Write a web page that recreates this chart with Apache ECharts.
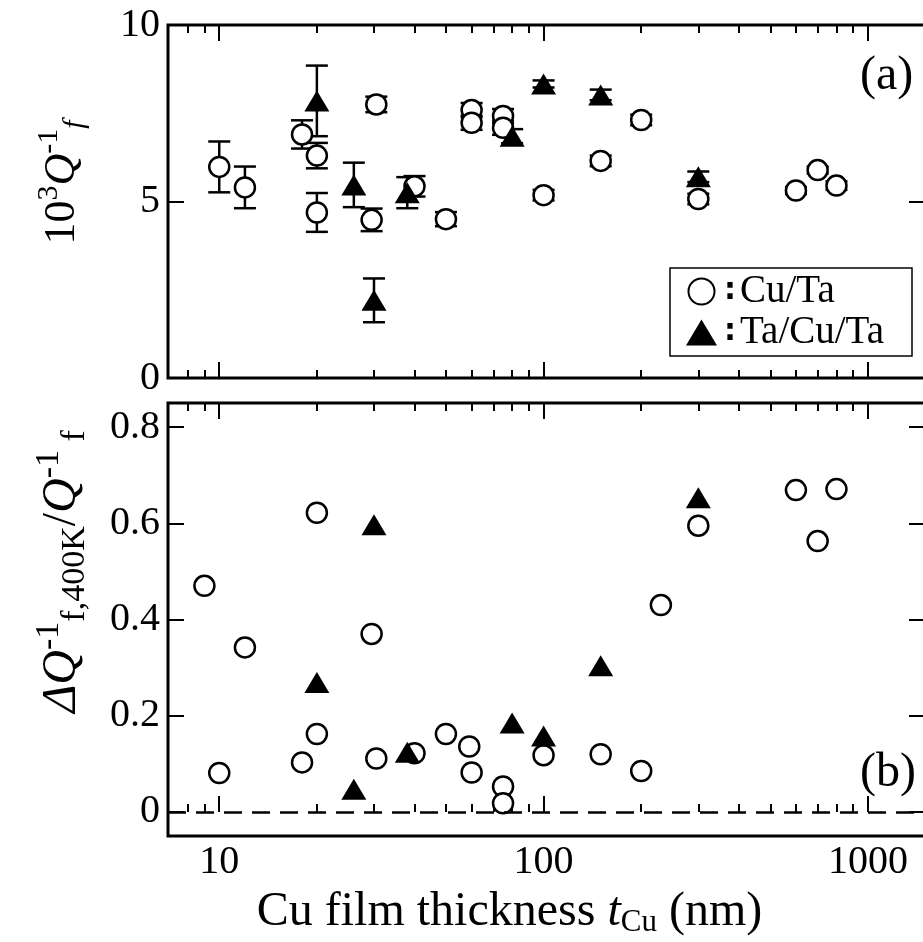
<!DOCTYPE html>
<html>
<head>
<meta charset="utf-8">
<script src="https://cdn.jsdelivr.net/npm/echarts@6/dist/echarts.min.js"></script>
<style>
  html, body { margin: 0; padding: 0; background: #fff; overflow: hidden; }
  #chart { width: 923px; height: 942px; }
</style>
</head>
<body>
<div id="chart"></div>
<script>
// x axis: Cu film thickness (nm), log scale
const xMajor = [10, 100, 1000];
const xMinor = [8, 9, 20, 30, 40, 50, 60, 70, 80, 90, 200, 300, 400, 500, 600, 700, 800, 900];
const yTicksA = [0, 5, 10];
const yTicksB = [0, 0.2, 0.4, 0.6, 0.8];

// (a) 10^3 Q^-1_f with error bars
const cuX_a = [10, 12, 18, 20, 20, 30.5, 29.5, 40, 50, 60, 60, 75, 75, 100, 150, 200, 300, 600, 700, 800];
const cuY_a = [5.98, 5.4, 6.9, 6.3, 4.69, 7.75, 4.48, 5.43, 4.5, 7.59, 7.23, 7.42, 7.09, 5.18, 6.15, 7.31, 5.07, 5.31, 5.89, 5.45];
const cuE_a = [0.72, 0.59, 0.4, 0.36, 0.55, 0.22, 0.32, 0.29, 0.2, 0.2, 0.2, 0.2, 0.2, 0.15, 0.15, 0.15, 0.15, 0.1, 0.1, 0.12];
const taX_a = [20, 26, 30, 38, 80, 100, 150, 300];
const taY_a = [7.85, 5.47, 2.2, 5.25, 6.85, 8.33, 8.02, 5.7];
const taE_a = [1.0, 0.63, 0.62, 0.44, 0.2, 0.1, 0.15, 0.15];

// (b) delta Q^-1_f,400K / Q^-1_f
const cuX_b = [9, 10, 12, 18, 20, 20, 29.5, 30.5, 40, 50, 59, 60, 75, 75, 100, 150, 200, 230, 300, 600, 700, 800];
const cuY_b = [0.47, 0.081, 0.342, 0.103, 0.622, 0.162, 0.37, 0.111, 0.122, 0.162, 0.136, 0.082, 0.053, 0.018, 0.118, 0.12, 0.085, 0.43, 0.595, 0.669, 0.563, 0.671];
const taX_b = [20, 26, 30, 38, 80, 100, 150, 300];
const taY_b = [0.269, 0.047, 0.597, 0.124, 0.185, 0.158, 0.304, 0.653];

const FONT = "'Liberation Serif', 'Times New Roman', serif";
const zip = (...a) => a[0].map((_, i) => a.map(c => c[i]));

function xAxisOf(grid, pos, values, len, withLabels) {
  return {
    type: 'log', logBase: 10, min: 6.95, max: 1500, gridIndex: grid, position: pos,
    axisLine: { show: false },
    splitLine: { show: false },
    axisTick: { show: true, inside: true, length: len, customValues: values,
      lineStyle: { color: '#000', width: 2 } },
    axisLabel: withLabels ? { show: true, customValues: xMajor, margin: 6,
      formatter: v => String(Math.round(v)),
      fontFamily: FONT, fontSize: 40, color: '#000' } : { show: false }
  };
}

function yAxisOf(grid, pos, min, max, ticks, withLabels) {
  return {
    type: 'value', gridIndex: grid, position: pos, min: min, max: max,
    axisLine: { show: false },
    splitLine: { show: false },
    axisTick: { show: true, inside: true, length: 16, customValues: ticks,
      lineStyle: { color: '#000', width: 2 } },
    axisLabel: withLabels ? { show: true, customValues: ticks, margin: 8,
      fontFamily: FONT, fontSize: 40, color: '#000' } : { show: false }
  };
}

function errorBars(params, api) {
  const x = api.value(0), y = api.value(1), e = api.value(2);
  const lo = api.coord([x, y - e]);
  const hi = api.coord([x, y + e]);
  const w = 11;
  const st = { stroke: '#000', lineWidth: 2.5 };
  return {
    type: 'group',
    children: [
      { type: 'line', shape: { x1: lo[0], y1: lo[1], x2: hi[0], y2: hi[1] }, style: st },
      { type: 'line', shape: { x1: lo[0] - w, y1: lo[1], x2: lo[0] + w, y2: lo[1] }, style: st },
      { type: 'line', shape: { x1: hi[0] - w, y1: hi[1], x2: hi[0] + w, y2: hi[1] }, style: st }
    ]
  };
}

const circleStyle = { color: '#fff', borderColor: '#000', borderWidth: 2.5, opacity: 1 };
const triStyle = { color: '#000', opacity: 1 };

function titleRich(big, small) {
  return {
    n: { fontFamily: FONT, fontSize: big, lineHeight: big + 12, color: '#000' },
    i: { fontFamily: FONT, fontSize: big, lineHeight: big + 12, fontStyle: 'italic', color: '#000' },
    sup: { fontFamily: FONT, fontSize: small, lineHeight: small, verticalAlign: 'top', color: '#000' },
    sub: { fontFamily: FONT, fontSize: small, lineHeight: small, verticalAlign: 'bottom', color: '#000' },
    isub: { fontFamily: FONT, fontSize: small, lineHeight: small, verticalAlign: 'bottom', fontStyle: 'italic', color: '#000' }
  };
}

const yA = yAxisOf(0, 'left', 0, 10, yTicksA, true);
yA.name = '{n|10}{sup|3}{i|Q}{sup|-1}{isub|f}';
yA.nameLocation = 'middle';
yA.nameRotate = 90;
yA.nameGap = 78;
yA.nameTextStyle = { rich: titleRich(44, 30), padding: [0, 0, 0, 38] };

const yB = yAxisOf(1, 'left', -0.05, 0.85, yTicksB, true);
yB.name = '{i|ΔQ}{sup|-1}{sub|f,400K}{n|/}{i|Q}{sup|-1}{sub| f}';
yB.nameLocation = 'middle';
yB.nameRotate = 90;
yB.nameGap = 76;
yB.nameTextStyle = { rich: titleRich(48, 34), padding: [0, 0, 0, 96] };

const xB = xAxisOf(1, 'bottom', xMajor, 16, true);
xB.name = 'Cu film thickness {it|t}{sb|Cu} (nm)';
xB.nameLocation = 'middle';
xB.nameGap = 50;
xB.nameTextStyle = {
  fontFamily: FONT, fontSize: 48, lineHeight: 52, color: '#000', padding: [0, 74, 0, 0],
  rich: {
    it: { fontFamily: FONT, fontSize: 48, lineHeight: 52, fontStyle: 'italic', color: '#000' },
    sb: { fontFamily: FONT, fontSize: 31, lineHeight: 31, verticalAlign: 'bottom', color: '#000' }
  }
};

const chart = echarts.init(document.getElementById('chart'), null, { renderer: 'canvas' });

chart.setOption({
  backgroundColor: '#fff',
  animation: false,
  grid: [
    { left: 168, top: 25, width: 757, height: 353, outerBoundsMode: 'none', containLabel: false,
      show: true, borderColor: '#000', borderWidth: 3, backgroundColor: 'transparent' },
    { left: 168, top: 403, width: 757, height: 433, outerBoundsMode: 'none', containLabel: false,
      show: true, borderColor: '#000', borderWidth: 3, backgroundColor: 'transparent' }
  ],
  xAxis: [
    xAxisOf(0, 'bottom', xMajor, 16, false),
    xAxisOf(0, 'bottom', xMinor, 8, false),
    xAxisOf(0, 'top', xMajor, 16, false),
    xAxisOf(0, 'top', xMinor, 8, false),
    xB,
    xAxisOf(1, 'bottom', xMinor, 8, false),
    xAxisOf(1, 'top', xMajor, 16, false),
    xAxisOf(1, 'top', xMinor, 8, false)
  ],
  yAxis: [
    yA,
    yAxisOf(0, 'right', 0, 10, yTicksA, false),
    yB,
    yAxisOf(1, 'right', -0.05, 0.85, yTicksB, false)
  ],
  legend: {
    left: 670, top: 268, orient: 'vertical',
    data: ['Cu/Ta', 'Ta/Cu/Ta'],
    borderColor: '#000', borderWidth: 1.5, borderRadius: 0,
    padding: [4, 28, 4, 16], itemGap: 2,
    itemWidth: 31, itemHeight: 26,
    selectedMode: false,
    formatter: n => '{k|:}' + n,
    textStyle: {
      fontFamily: FONT, fontSize: 39, color: '#000',
      rich: { k: { fontFamily: "'DejaVu Sans', sans-serif", fontSize: 30, fontWeight: 'bold', color: '#000', padding: [0, 4, 0, 2] } }
    }
  },
  graphic: [
    { type: 'text', left: 860, top: 52, style: { text: '(a)', font: '48px ' + FONT, fill: '#000' } },
    { type: 'text', left: 860, top: 749, style: { text: '(b)', font: '48px ' + FONT, fill: '#000' } }
  ],
  series: [
    { type: 'custom', xAxisIndex: 0, yAxisIndex: 0, renderItem: errorBars, encode: { x: 0, y: 1 }, data: zip(cuX_a, cuY_a, cuE_a), z: 1, silent: true },
    { type: 'custom', xAxisIndex: 0, yAxisIndex: 0, renderItem: errorBars, encode: { x: 0, y: 1 }, data: zip(taX_a, taY_a, taE_a), z: 1, silent: true },
    { name: 'Cu/Ta', type: 'scatter', xAxisIndex: 0, yAxisIndex: 0, symbol: 'circle', symbolSize: 20,
      itemStyle: circleStyle, data: zip(cuX_a, cuY_a), z: 2 },
    { name: 'Ta/Cu/Ta', type: 'scatter', xAxisIndex: 0, yAxisIndex: 0, symbol: 'triangle', symbolSize: [25, 21],
      itemStyle: triStyle, data: zip(taX_a, taY_a), z: 3 },
    { name: 'Cu/Ta', type: 'scatter', xAxisIndex: 4, yAxisIndex: 2, symbol: 'circle', symbolSize: 20,
      itemStyle: circleStyle, data: zip(cuX_b, cuY_b), z: 2,
      markLine: {
        silent: true, symbol: 'none', label: { show: false },
        lineStyle: { color: '#000', width: 2.5, type: [18, 10] },
        data: [{ yAxis: 0 }]
      } },
    { name: 'Ta/Cu/Ta', type: 'scatter', xAxisIndex: 4, yAxisIndex: 2, symbol: 'triangle', symbolSize: [25, 21],
      itemStyle: triStyle, data: zip(taX_b, taY_b), z: 3 }
  ]
});
</script>
</body>
</html>
